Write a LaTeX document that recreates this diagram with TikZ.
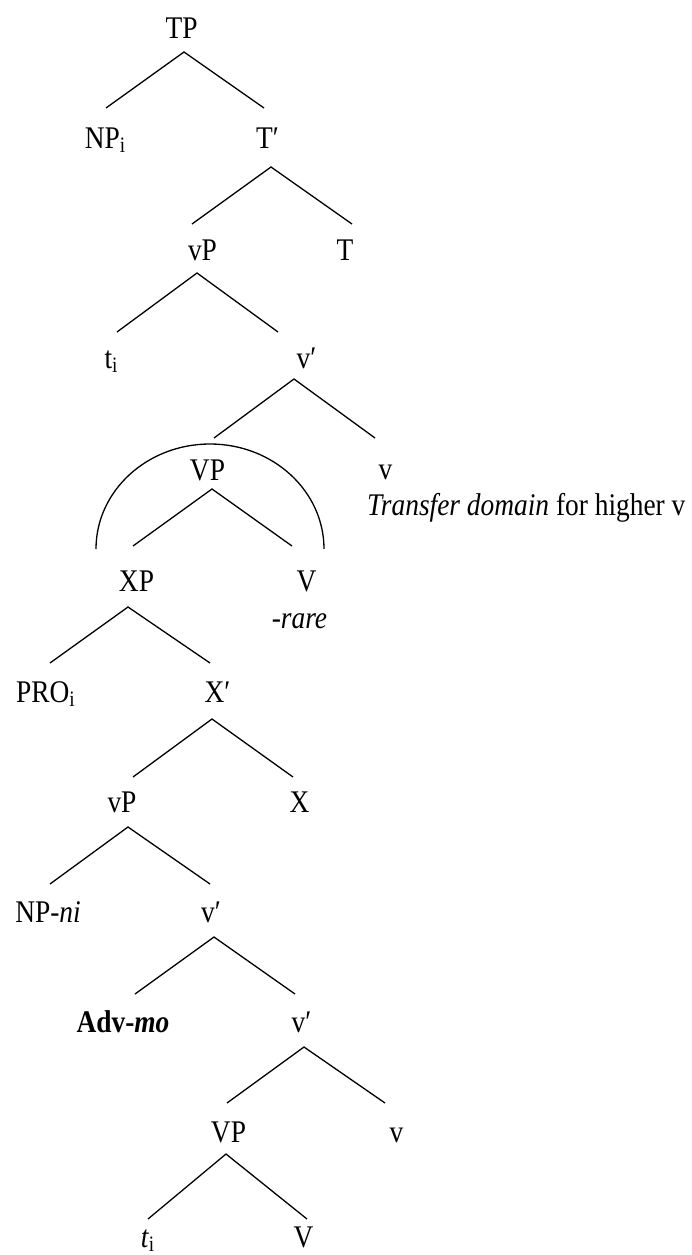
\documentclass[tikz,border=0pt]{standalone}
\usepackage{fontspec}
\setmainfont{Liberation Serif}[FakeStretch=0.87]
\newcommand{\sbi}[1]{\raisebox{-4pt}{\fontsize{22}{22}\selectfont #1}}
\begin{document}
\begin{tikzpicture}[x=1pt,y=-1pt,
  lab/.style={inner sep=0pt, anchor=base, font=\fontsize{31.5}{36}\selectfont},
  branch/.style={line width=1.3pt, black}]
\useasboundingbox (0,0) rectangle (691,1255);

% ---- labels ----
\node[lab] (tp)   at (181.5,39)  {TP};
\node[lab] (npi)  at (105,148)   {NP\sbi{i}};
\node[lab] (tbar) at (267.5,148) {T′};
\node[lab] (vp1)  at (202.5,260) {vP};
\node[lab] (t)    at (345,260)   {T};
\node[lab] (ti1)  at (111,368)   {t\sbi{i}};
\node[lab] (vb1)  at (306.5,368) {v′};
\node[lab] (VP1)  at (207.5,480) {VP};
\node[lab] (v1)   at (385.5,479) {v};
\node[lab, anchor=base west] (tdom) at (367,515) {\textit{Transfer domain} for higher v};
\node[lab] (xp)   at (136.5,591) {XP};
\node[lab] (V1)   at (306.5,591) {V};
\node[lab] (rare) at (299.5,628) {\textit{-rare}};
\node[lab] (pro)  at (45.5,702)  {PRO\sbi{i}};
\node[lab] (xbar) at (217.5,702) {X′};
\node[lab] (vp2)  at (122,812)   {vP};
\node[lab] (x)    at (299.5,812) {X};
\node[lab] (npni) at (48,922)    {NP-\textit{ni}};
\node[lab] (vb2)  at (211,922)   {v′};
\node[lab] (adv)  at (123,1032)  {\textbf{Adv-\textit{mo}}};
\node[lab] (vb3)  at (301.5,1032){v′};
\node[lab] (VP2)  at (228.5,1142){VP};
\node[lab] (v2)   at (396.5,1142){v};
\node[lab] (ti2)  at (147.5,1247){\textit{t}\sbi{i}};
\node[lab] (V2)   at (303.5,1247){V};

% ---- branch points: apex below each mother, tops above each daughter ----
\coordinate (a0) at (184,52);   \coordinate (l0) at (106,108);  \coordinate (r0) at (264,108);
\coordinate (a1) at (271,167);  \coordinate (l1) at (192,224);  \coordinate (r1) at (352,224);
\coordinate (a2) at (197,273);  \coordinate (l2) at (117,332);  \coordinate (r2) at (278,332);
\coordinate (a3) at (294,379);  \coordinate (l3) at (214,438);  \coordinate (r3) at (375,438);
\coordinate (a4) at (212,489);  \coordinate (l4) at (133,546);  \coordinate (r4) at (292,546);
\coordinate (a5) at (128,607);  \coordinate (l5) at (50,663);   \coordinate (r5) at (210,663);
\coordinate (a6) at (212,719);  \coordinate (l6) at (133,777);  \coordinate (r6) at (293,777);
\coordinate (a7) at (128,827);  \coordinate (l7) at (50,884);   \coordinate (r7) at (210,884);
\coordinate (a8) at (214,937);  \coordinate (l8) at (135,994);  \coordinate (r8) at (295,994);
\coordinate (a9) at (304,1047); \coordinate (l9) at (227,1103); \coordinate (r9) at (385,1103);
\coordinate (a10) at (226,1154);\coordinate (l10) at (148,1219);\coordinate (r10) at (307,1219);

\foreach \i in {0,...,10}{
  \draw[branch] (l\i) -- (a\i) -- (r\i);
}

% ---- arc marking the transfer domain ----
\coordinate (arcL) at (96,549);
\draw[branch] (arcL) arc[start angle=180, end angle=0, x radius=114pt, y radius=105pt];
\end{tikzpicture}
\end{document}
